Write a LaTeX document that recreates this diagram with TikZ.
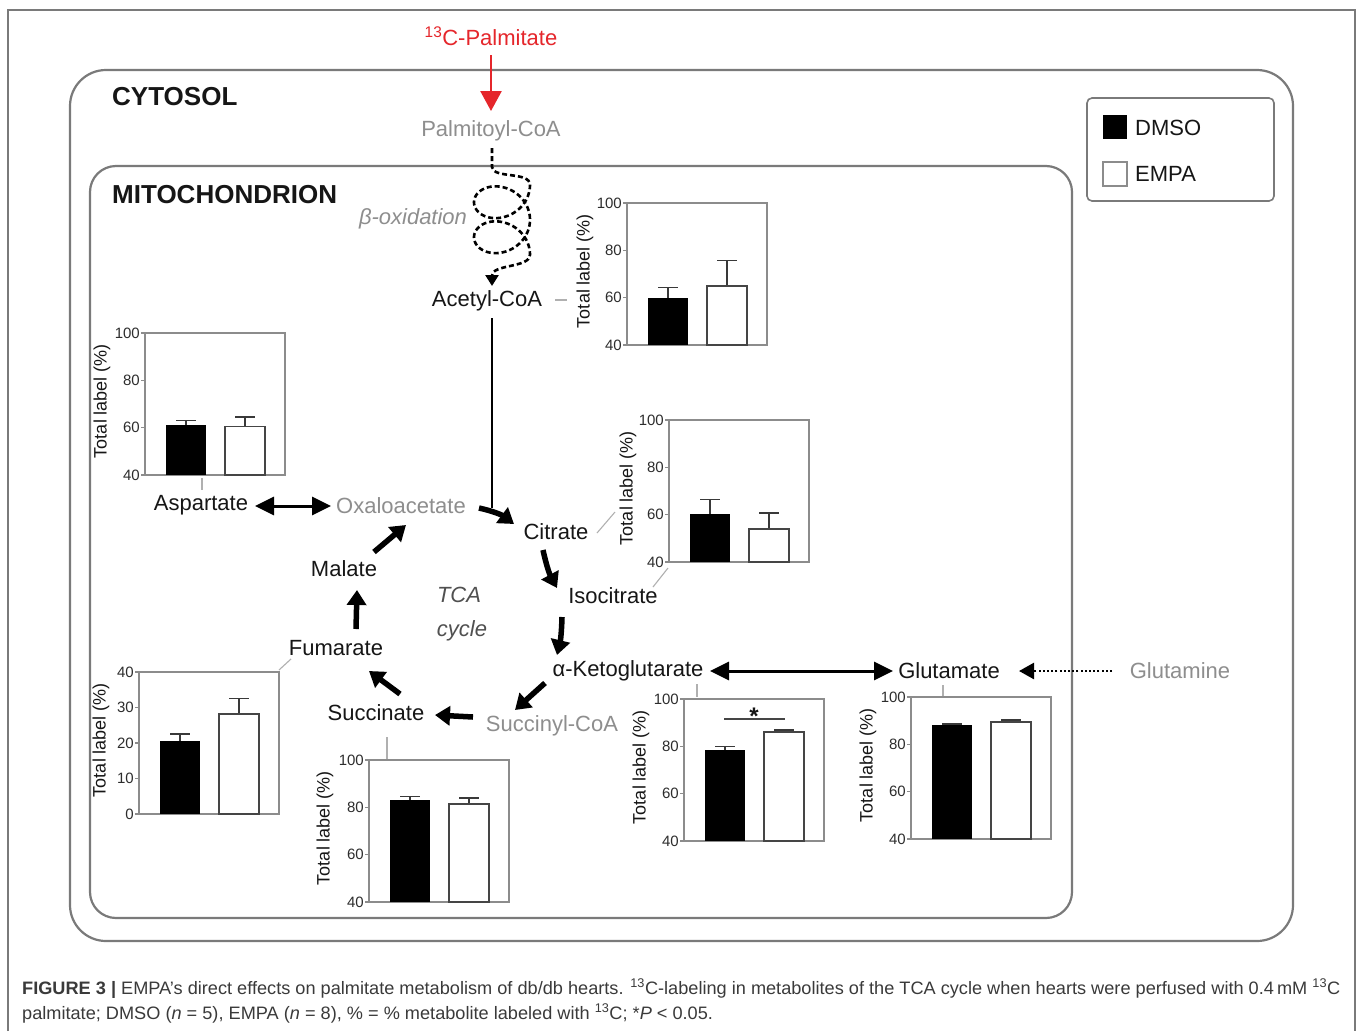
\documentclass[tikz,border=0pt]{standalone}
\usepackage{fontspec}
\setmainfont{Liberation Sans}
\usepackage{graphicx}
\usetikzlibrary{arrows.meta,calc}
\definecolor{lblgray}{HTML}{8E8E8E}
\definecolor{framegray}{HTML}{7A7A7A}
\definecolor{chartgray}{HTML}{8C8C8C}
\definecolor{palred}{HTML}{E5262B}
\definecolor{txtdark}{HTML}{161616}
\definecolor{capgray}{HTML}{3A3A3A}
\definecolor{leadgray}{HTML}{B0B0B0}
\newsavebox\capA
\newsavebox\capB
\newcommand\lblfont{\fontsize{22}{26}\selectfont}
\newcommand\capfont{\fontsize{18}{22}\selectfont\color{capgray}}
\newcommand\chartaxes[6]{%
  \draw[chartframe] (#1,#2) rectangle ++(140,142);
  \foreach \v in {#5}{%
    \pgfmathsetmacro\ty{#2+142-(\v-#3)*142/(#4-#3)}%
    \draw[chartframe] (#1,\ty) -- ++(-4,0);
    \node[ticklbl,anchor=east,name=tk-#1-\v] at ({#1-5},\ty) {\v};
  }%
  \node[ylbl,name=yl-#1] at ({#1-#6},{#2+68}) {Total label (\%)};
}
\newcommand\chartbars[8]{%
  \pgfmathsetmacro\yb{#2+142}%
  \pgfmathsetmacro\ya{#2+142-(#5-#3)*142/(#4-#3)}%
  \pgfmathsetmacro\yea{#2+142-(#6-#3)*142/(#4-#3)}%
  \pgfmathsetmacro\yc{#2+142-(#7-#3)*142/(#4-#3)}%
  \pgfmathsetmacro\yec{#2+142-(#8-#3)*142/(#4-#3)}%
  \draw[errbar] ({#1+41},\ya) -- ({#1+41},\yea) ({#1+31},\yea) -- ({#1+51},\yea);
  \draw[errbar] ({#1+100},\yc) -- ({#1+100},\yec) ({#1+90},\yec) -- ({#1+110},\yec);
  \fill[dmsobar] ({#1+21},\yb) rectangle ({#1+61},\ya);
  \draw[empabar] ({#1+80},\yb) rectangle ({#1+120},\yc);
}
\begin{document}
\sbox\capA{\capfont{\bfseries FIGURE 3 |} EMPA’s direct effects on palmitate metabolism of db/db hearts. \textsuperscript{13}C-labeling in metabolites of the TCA cycle when hearts were perfused with 0.4\,mM \textsuperscript{13}C}%
\sbox\capB{\capfont palmitate; DMSO (\textit{n} = 5), EMPA (\textit{n} = 8), \% = \% metabolite labeled with \textsuperscript{13}C; *\textit{P} < 0.05.}%
\pgfmathsetmacro\capsc{1318/\the\wd\capA}%
\begin{tikzpicture}[x=1pt,y=-1pt,
  lbl/.style={font=\lblfont, text=txtdark, inner sep=0pt},
  glbl/.style={font=\lblfont, text=lblgray, inner sep=0pt},
  titlelbl/.style={font=\fontsize{26}{30}\selectfont\bfseries, text=txtdark, inner sep=0pt, anchor=west},
  chartframe/.style={draw=chartgray, line width=1.4pt},
  ticklbl/.style={font=\fontsize{15}{17}\selectfont, text=txtdark!90, inner sep=0pt},
  ylbl/.style={rotate=90, font=\fontsize{18}{20}\selectfont, text=txtdark, inner sep=0pt},
  errbar/.style={draw=txtdark!85, line width=1.5pt},
  dmsobar/.style={fill=black},
  empabar/.style={draw=txtdark!80, line width=1.5pt, fill=white},
  compbox/.style={draw=framegray, line width=2.2pt},
  outerframe/.style={draw=framegray, line width=1.5pt},
  leader/.style={draw=leadgray, line width=1.1pt},
  tca/.style={draw=black, line width=5.5pt, -{Triangle[length=15pt,width=19pt]}},
  dbl/.style={draw=black, line width=3pt, {Triangle[length=19pt,width=18pt]}-{Triangle[length=19pt,width=18pt]}},
]
\useasboundingbox (0,0) rectangle (1360,1031);
\fill[white] (0,0) rectangle (1360,1031);
\draw[outerframe] (8,1031) -- (8,10) -- (1355,10) -- (1355,1031);

% compartments
\draw[compbox, rounded corners=36pt] (70,70) rectangle (1293,941);
\draw[compbox, rounded corners=26pt] (90,166) rectangle (1072,918);
\node[titlelbl] (cyto) at (112,97) {CYTOSOL};
\node[titlelbl] (mito) at (112,195) {MITOCHONDRION};

% legend
\draw[draw=framegray, line width=1.6pt, rounded corners=5pt] (1087,98) rectangle (1274,201);
\fill[black] (1103,115) rectangle (1127,139);
\draw[draw=chartgray, line width=1.3pt, fill=white] (1103,162) rectangle (1127,186);
\node[lbl, anchor=west] (ldmso) at (1135,128) {DMSO};
\node[lbl, anchor=west] (lempa) at (1135,174) {EMPA};

% palmitate input
\node[font=\lblfont, text=palred, inner sep=0pt] (palm) at (491,36) {\textsuperscript{13}C-Palmitate};
\coordinate (redtip) at (491,111);
\draw[draw=palred, line width=2.5pt, -{Triangle[length=20pt,width=21pt]}] (palm.south) ++(0,10) -- (redtip);
\node[glbl] (pcoa) at (491,131) {Palmitoyl-CoA};

% beta-oxidation spiral
\node[font=\lblfont\itshape, text=lblgray, inner sep=0pt] (box) at (413,219) {β-oxidation};
\coordinate (spstart) at (492,148);
\coordinate (sptip) at (492,286);
\draw[draw=black, line width=2.6pt, dash pattern=on 5pt off 3pt, -{Triangle[length=11pt,width=13pt]}]
  (spstart) -- (492,167) .. controls (493,179) and (530,171) .. (530,185)
  -- plot[domain=90:810, samples=160, smooth] ({502+28*sin(\x)}, {176+0.0972*\x-24*cos(\x)})
  .. controls (530,268) and (492,264) .. (sptip);
\node[lbl] (acoa) at (487,301) {Acetyl-CoA};
\coordinate (acdown) at (492,508);
\draw[draw=black, line width=2.5pt] (492,318) -- (acdown);

% metabolite labels
\node[lbl] (asp) at (201,505) {Aspartate};
\node[glbl] (oaa) at (401,506) {Oxaloacetate};
\node[lbl] (cit) at (556,532) {Citrate};
\node[lbl] (iso) at (613,596) {Isocitrate};
\node[lbl] (akg) at (628,671) {α-Ketoglutarate};
\node[lbl] (glu) at (949,671) {Glutamate};
\node[glbl] (gln) at (1180,671) {Glutamine};
\node[glbl] (scoa) at (552,726) {Succinyl-CoA};
\node[lbl] (suc) at (376,713) {Succinate};
\node[lbl] (fum) at (336,648) {Fumarate};
\node[lbl] (mal) at (344,569) {Malate};
\node[font=\lblfont\itshape, text=txtdark!75, inner sep=0pt] (tca1) at (459,595) {TCA};
\node[font=\lblfont\itshape, text=txtdark!75, inner sep=0pt] (tca2) at (462,631) {cycle};

% TCA arrows
\coordinate (a1s) at (479,508); \coordinate (a1e) at (514,524);
\coordinate (a2s) at (543,550); \coordinate (a2e) at (557,588);
\coordinate (a3s) at (562,617); \coordinate (a3e) at (557,655);
\coordinate (a4s) at (545,683); \coordinate (a4e) at (515,710);
\coordinate (a5s) at (473,717); \coordinate (a5e) at (435,715);
\coordinate (a6s) at (400,694); \coordinate (a6e) at (369,671);
\coordinate (a7s) at (356,629); \coordinate (a7e) at (357,590);
\coordinate (a8s) at (374,552); \coordinate (a8e) at (406,525);
\draw[tca] (a1s) to[bend left=12] (a1e);
\draw[tca] (a2s) to[bend right=8] (a2e);
\draw[tca] (a3s) to[bend left=6] (a3e);
\draw[tca] (a4s) -- (a4e);
\draw[tca] (a5s) -- (a5e);
\draw[tca] (a6s) -- (a6e);
\draw[tca] (a7s) -- (a7e);
\draw[tca] (a8s) -- (a8e);

% exchange arrows
\coordinate (aspR) at (255,506); \coordinate (oaaL) at (331,506);
\draw[dbl] (aspR) -- (oaaL);
\coordinate (akgR) at (710,671); \coordinate (gluL) at (893,671);
\draw[dbl] (akgR) -- (gluL);
\coordinate (glnL) at (1112,671); \coordinate (gluR) at (1019,671);
\draw[draw=black, line width=2.5pt, dash pattern=on 2pt off 2.2pt, -{Triangle[length=15pt,width=16pt]}] (glnL) -- (gluR);

% leader lines
\draw[leader] (555,300) -- (567,300);
\draw[leader] (202,478) -- (202,490);
\draw[leader] (597,533) -- (615,512);
\draw[leader] (653,587) -- (668,568);
\draw[leader] (279,670) -- (291,659);
\draw[leader] (387,737) -- (387,759);
\draw[leader] (697,684) -- (697,697);
\draw[leader] (943,685) -- (943,697);

% charts
\chartaxes{627}{203}{40}{100}{40,60,80,100}{42}
\chartbars{627}{203}{40}{100}{60}{64.3}{65}{75.7}
\chartaxes{145}{333}{40}{100}{40,60,80,100}{43}
\chartbars{145}{333}{40}{100}{61.3}{63}{60.5}{64.5}
\chartaxes{669}{420}{40}{100}{40,60,80,100}{41}
\chartbars{669}{420}{40}{100}{60.4}{66.5}{54}{60.8}
\chartaxes{139}{672}{0}{40}{0,10,20,30,40}{38}
\chartbars{139}{672}{0}{40}{20.6}{22.6}{28.2}{32.5}
\chartaxes{369}{760}{40}{100}{40,60,80,100}{44}
\chartbars{369}{760}{40}{100}{83.2}{84.5}{81.5}{84}
\chartaxes{684}{699}{40}{100}{40,60,80,100}{43}
\chartbars{684}{699}{40}{100}{78.5}{80}{86}{87}
\chartaxes{911}{697}{40}{100}{40,60,80,100}{43}
\chartbars{911}{697}{40}{100}{88}{88.5}{89.5}{90.2}
\draw[draw=txtdark!80, line width=1.5pt] (724,719) -- (785,719);
\node[font=\fontsize{24}{26}\selectfont\bfseries, text=txtdark, inner sep=0pt, anchor=base] (star) at (754,724) {*};

% caption
\node[anchor=base west, inner sep=0pt] (cap1) at (22,994) {\scalebox{\capsc}[1]{\usebox\capA}};
\node[anchor=base west, inner sep=0pt] (cap2) at (22,1019) {\scalebox{\capsc}[1]{\usebox\capB}};
\end{tikzpicture}
\end{document}
